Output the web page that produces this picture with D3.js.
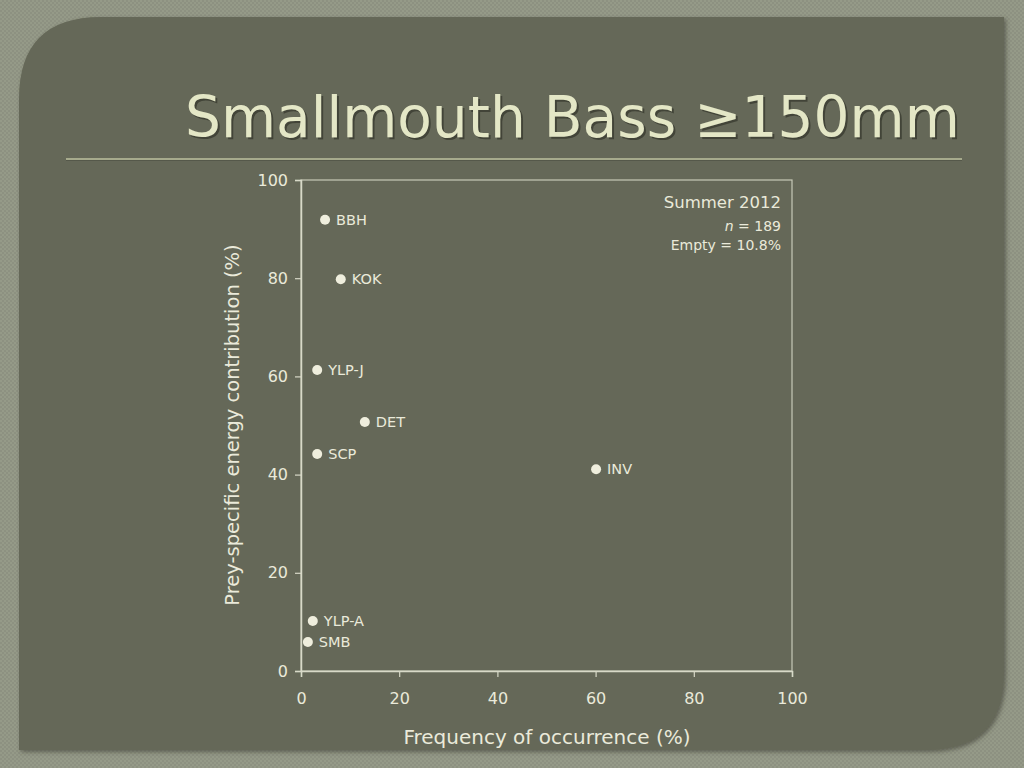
<!DOCTYPE html>
<html><head><meta charset="utf-8">
<script src="https://cdn.jsdelivr.net/npm/d3@7/dist/d3.min.js"></script>
<style>
html,body{margin:0;padding:0;background:#8d9181;}
svg{display:block;}
</style></head>
<body>
<svg id="c" width="1024" height="768"></svg>
<script>
const labels = ["BBH","KOK","YLP-J","DET","SCP","INV","YLP-A","SMB"];
const freq = [4.9, 8.1, 3.3, 13.0, 3.3, 60.1, 2.4, 1.4];
const energy = [91.9, 79.8, 61.3, 50.7, 44.2, 41.1, 10.2, 5.9];
const xTicks = [0,20,40,60,80,100];
const yTicks = [0,20,40,60,80,100];
const titleText = "Smallmouth Bass \u2265150mm";
const xLabel = "Frequency of occurrence (%)";
const yLabel = "Prey-specific energy contribution (%)";
const noteLines = ["Summer 2012", "n = 189", "Empty = 10.8%"];

const svg = d3.select("#c");
const font = "Tahoma, 'DejaVu Sans', Verdana, sans-serif";
const txt = "#eaeada";

const defs = svg.append("defs");
const pat = defs.append("pattern").attr("id","tex").attr("width",4).attr("height",4).attr("patternUnits","userSpaceOnUse");
pat.append("rect").attr("width",4).attr("height",4).attr("fill","#8d9181");
pat.append("rect").attr("width",2).attr("height",2).attr("fill","#959a88");
pat.append("rect").attr("x",2).attr("y",2).attr("width",2).attr("height",2).attr("fill","#959a88");
svg.append("rect").attr("width",1024).attr("height",768).attr("fill","url(#tex)");

const f = defs.append("filter").attr("id","sh").attr("filterUnits","userSpaceOnUse")
  .attr("x",0).attr("y",0).attr("width",1024).attr("height",768);
f.append("feDropShadow").attr("dx",2).attr("dy",2).attr("stdDeviation",2).attr("flood-color","#3a3c30").attr("flood-opacity",0.6);

const L=19, T=17, R=1004, B=750, r1=82, r2=78;
const p = `M${L},${T+r1} Q${L},${T} ${L+r1},${T} L${R},${T} L${R},${B-r2} Q${R},${B} ${R-r2},${B} L${L},${B} Z`;
svg.append("path").attr("d",p).attr("fill","#656858").attr("filter","url(#sh)");

// title: shadow copy + main text, font size fitted to reference width
const titleG = svg.append("g");
const shadowT = titleG.append("text").attr("x",187).attr("y",139)
  .attr("font-family",font).attr("font-size",62).attr("fill","#34362b").attr("opacity",0.7).text(titleText);
const title = titleG.append("text").attr("x",185).attr("y",137)
  .attr("font-family",font).attr("font-size",62).attr("fill","#e4e7c6").text(titleText);
const tw = title.node().getComputedTextLength();
const fs = 62*775/tw;
title.attr("font-size",fs); shadowT.attr("font-size",fs);

svg.append("rect").attr("x",66).attr("y",158).attr("width",896).attr("height",2).attr("fill","#a6aa8c");
svg.append("rect").attr("x",66).attr("y",160).attr("width",896).attr("height",1).attr("fill","#55584a");

const x = d3.scaleLinear().domain([0,100]).range([301,792]);
const y = d3.scaleLinear().domain([0,100]).range([671,180]);
const axCol = "#d8d9c8";

svg.append("rect").attr("x",x(0)).attr("y",y(100)).attr("width",x(100)-x(0)).attr("height",y(0)-y(100))
  .attr("fill","none").attr("stroke",axCol).attr("stroke-width",1.2).attr("opacity",0.85);

const gx = svg.append("g").attr("transform",`translate(0,${y(0)})`)
  .call(d3.axisBottom(x).tickValues(xTicks).tickSize(6).tickPadding(16).tickFormat(d3.format("d")));
const gy = svg.append("g").attr("transform",`translate(${x(0)},0)`)
  .call(d3.axisLeft(y).tickValues(yTicks).tickSize(6).tickPadding(7).tickFormat(d3.format("d")));
[gx,gy].forEach(g=>{
  g.select(".domain").attr("stroke",axCol).attr("stroke-width",1.5);
  g.selectAll(".tick line").attr("stroke",axCol).attr("stroke-width",1.2);
  g.selectAll(".tick text").attr("fill",txt).attr("font-family",font).attr("font-size",16);
});

svg.append("text").attr("x",547).attr("y",744).attr("text-anchor","middle")
  .attr("font-family",font).attr("font-size",20).attr("fill",txt).text(xLabel);
svg.append("text").attr("transform","translate(239,425) rotate(-90)").attr("text-anchor","middle")
  .attr("font-family",font).attr("font-size",19.5).attr("fill",txt).text(yLabel);

const data = labels.map((l,i)=>({l, fx:freq[i], e:energy[i]}));
svg.selectAll("circle.pt").data(data).enter().append("circle").attr("class","pt")
  .attr("cx",d=>x(d.fx)).attr("cy",d=>y(d.e)).attr("r",5).attr("fill","#efeedd");
svg.selectAll("text.pl").data(data).enter().append("text").attr("class","pl")
  .attr("x",d=>x(d.fx)+11).attr("y",d=>y(d.e)+5)
  .attr("font-family",font).attr("font-size",14.5).attr("fill",txt).text(d=>d.l);

svg.append("text").attr("x",781).attr("y",208).attr("text-anchor","end")
  .attr("font-family",font).attr("font-size",16.5).attr("fill",txt).text(noteLines[0]);
const n = svg.append("text").attr("x",781).attr("y",231).attr("text-anchor","end")
  .attr("font-family",font).attr("font-size",14).attr("fill",txt);
n.append("tspan").attr("font-style","italic").text(noteLines[1].slice(0,1));
n.append("tspan").text(noteLines[1].slice(1));
svg.append("text").attr("x",781).attr("y",250).attr("text-anchor","end")
  .attr("font-family",font).attr("font-size",14).attr("fill",txt).text(noteLines[2]);
</script>
</body></html>
